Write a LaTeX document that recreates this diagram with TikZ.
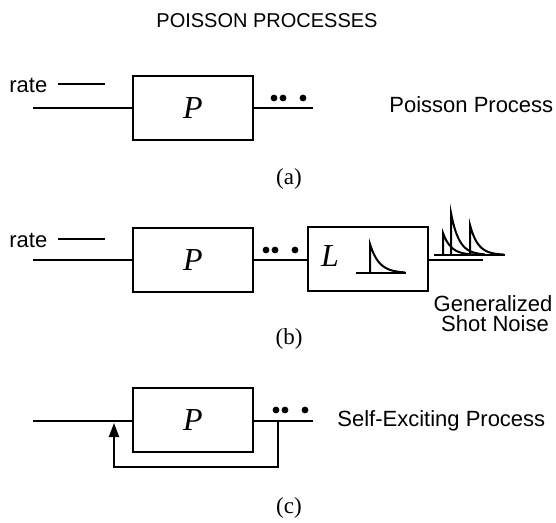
\documentclass[tikz,border=0pt]{standalone}
\usepackage{fontspec}
\setmainfont{Liberation Serif}
\setsansfont{Liberation Sans}
\usetikzlibrary{arrows.meta}
\tikzset{
  blk/.style={draw, line width=1.3pt, minimum width=60pt, minimum height=32pt, inner sep=0pt, font=\fontsize{16}{16}\selectfont\itshape},
  lbl/.style={font=\sffamily\fontsize{11}{11}\selectfont, inner sep=0pt},
  sublbl/.style={font=\fontsize{11.5}{12}\selectfont, inner sep=0pt},
  wire/.style={line width=1pt},
  evdot/.style={fill=black},
}
\begin{document}
\begin{tikzpicture}[x=0.5pt, y=-0.5pt, line join=miter, >={Triangle[width=5pt,length=7pt]}]
\useasboundingbox (0,0) rectangle (556,523);
\node[lbl, font=\sffamily\fontsize{10}{12}\selectfont] (title) at (267,21) {POISSON PROCESSES};
% (a) Poisson process
\node[blk] (Pa) at (193,108) {P};
\node[lbl, anchor=base west] (ratea) at (9,93) {rate};
\coordinate (ra1) at (58,84);
\coordinate (ra2) at (105,84);
\coordinate (ina) at (33,108);
\coordinate (outa) at (313,108);
\draw[wire] (ra1) -- (ra2);
\draw[wire] (ina) -- (Pa);
\draw[wire] (Pa) -- (outa);
\foreach \dx in {274,283,303} \fill[evdot] (\dx,98) circle (1.7pt);
\node[lbl, anchor=base west] (namea) at (389,113) {Poisson Process};
\node[sublbl] (suba) at (289,179) {(a)};
% (b) shot noise
\node[blk] (Pb) at (193,260) {P};
\node[blk] (Lb) at (368,259) {};
\node[blk, draw=none, minimum width=0pt] (Ltxt) at (330,256) {L};
\node[lbl, anchor=base west] (rateb) at (9,248) {rate};
\coordinate (rb1) at (58,239);
\coordinate (rb2) at (105,239);
\coordinate (inb) at (33,260);
\coordinate (outb) at (483,260);
\draw[wire] (rb1) -- (rb2);
\draw[wire] (inb) -- (Pb);
\draw[wire] (Pb) -- (Pb -| Lb.west);
\draw[wire] (Pb -| Lb.east) -- (outb);
\foreach \dx in {266,275,295} \fill[evdot] (\dx,250) circle (1.7pt);
% impulse response
\draw[wire] (356,273) -- (406,273);
\draw[wire] (370,273) -- (370,244) -- plot[domain=0:35, samples=30] ({370+\x},{273-29*exp(-\x/9)});
% output pulses
\draw[wire] (434,255) -- (505,255);
\foreach \sx/\h in {443/22, 451/42, 470/30}
  \draw[wire] (\sx,255) -- (\sx,{255-\h}) -- plot[domain=0:34, samples=30] ({\sx+\x},{255-\h*exp(-\x/8)});
\node[lbl, anchor=base] (genb) at (493,312) {Generalized};
\node[lbl, anchor=base] (shotb) at (495,331) {Shot Noise};
\node[sublbl] (subb) at (289,339) {(b)};
% (c) self-exciting
\node[blk] (Pc) at (193,420) {P};
\coordinate (inc) at (33,421);
\coordinate (outc) at (313,421);
\coordinate (jc) at (278,421);
\coordinate (fbr) at (278,467);
\coordinate (fbl) at (114,467);
\coordinate (fbin) at (114,421);
\draw[wire] (inc) -- (Pc.west |- inc);
\draw[wire] (Pc.east |- outc) -- (outc);
\draw[wire, ->, shorten >=1pt] (jc) -- (fbr) -- (fbl) -- (fbin);
\foreach \dx in {276,285,305} \fill[evdot] (\dx,410) circle (1.7pt);
\node[lbl, anchor=base west] (namec) at (337,426) {Self-Exciting Process};
\node[sublbl] (subc) at (289,508) {(c)};
\end{tikzpicture}
\end{document}
